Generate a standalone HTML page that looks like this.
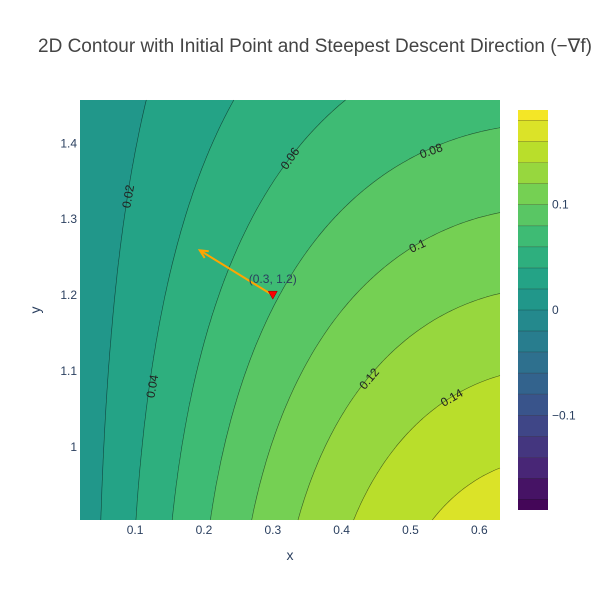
<!DOCTYPE html>
<html><head><meta charset="utf-8"><style>
body{margin:0;background:#fff;font-family:"Liberation Sans",sans-serif;}
#wrap{position:relative;width:600px;height:600px;}
canvas{position:absolute;left:80px;top:100px;}
svg{position:absolute;left:0;top:0;}
text{font-family:"Liberation Sans",sans-serif;fill:#2a3f5f;}
</style></head><body>
<div id="wrap">
<canvas id="cv" width="420" height="420"></canvas>
<svg id="sv" width="600" height="600"></svg>
</div>
<script>
const levels=[-0.18,-0.16,-0.14,-0.12,-0.1,-0.08,-0.06,-0.04,-0.02,0,0.02,0.04,0.06,0.08,0.1,0.12,0.14,0.16,0.18];
const xTicks=[0.1,0.2,0.3,0.4,0.5,0.6];
const xTickLabels=["0.1","0.2","0.3","0.4","0.5","0.6"];
const yTicks=[1,1.1,1.2,1.3,1.4];
const yTickLabels=["1","1.1","1.2","1.3","1.4"];
const cbTicks=[-0.1,0,0.1];
const cbTickLabels=["−0.1","0","0.1"];
const initialPoint=[0.3,1.2];
const arrowEnd=[0.194,1.259];
const labelLevels=[0.02,0.04,0.06,0.08,0.1,0.12,0.14];
const labelX=[0.09,0.125,0.325,0.53,0.51,0.44,0.56];
const labelY=[1.33,1.08,1.38,1.39,1.265,1.09,1.065];
const labelRot=[-80,-80,-55,-20,-25,-50,-30];

const X0=0.02,X1=0.63,Y0=0.904,Y1=1.457,L=80,T=100,W=420,H=420;
const sx=x=>L+(x-X0)/(X1-X0)*W, sy=y=>T+(Y1-y)/(Y1-Y0)*H;
const f=(x,y)=>x*y*Math.exp(-(x*x+y*y));
const vir=["#440154","#482878","#3e4989","#31688e","#26828e","#1f9e89","#35b779","#6ece58","#b5de2b","#fde725"];
function hex(h){return [1,3,5].map(i=>parseInt(h.substr(i,2),16));}
function cmap(t){t=Math.max(0,Math.min(1,t));const p=t*9,i=Math.min(8,Math.floor(p)),r=p-i;const a=hex(vir[i]),b=hex(vir[i+1]);return a.map((v,k)=>Math.round(v+(b[k]-v)*r));}
const CMIN=-0.19,CMAX=0.19;
function bandColor(v){let lo=CMIN,hi=CMAX;for(const l of levels){if(l<=v)lo=l;}for(let i=levels.length-1;i>=0;i--){if(levels[i]>v)hi=levels[i];}
 if(v<levels[0])hi=levels[0];return cmap(((lo+hi)/2-CMIN)/(CMAX-CMIN));}
const cv=document.getElementById('cv'),ctx=cv.getContext('2d'),img=ctx.createImageData(W,H);
for(let j=0;j<H;j++)for(let i=0;i<W;i++){const x=X0+(i+0.5)/W*(X1-X0),y=Y1-(j+0.5)/H*(Y1-Y0);const c=bandColor(f(x,y));const k=(j*W+i)*4;img.data[k]=c[0];img.data[k+1]=c[1];img.data[k+2]=c[2];img.data[k+3]=255;}
ctx.putImageData(img,0,0);
const sv=document.getElementById('sv'),NS="http://www.w3.org/2000/svg";
function el(t,a,p){const e=document.createElementNS(NS,t);for(const k in a)e.setAttribute(k,a[k]);(p||sv).appendChild(e);return e;}
const N=120;
for(const lv of levels){let d="";
 for(let j=0;j<N;j++)for(let i=0;i<N;i++){
  const xa=X0+i/N*(X1-X0),xb=X0+(i+1)/N*(X1-X0),ya=Y0+j/N*(Y1-Y0),yb=Y0+(j+1)/N*(Y1-Y0);
  const c=[[xa,ya,f(xa,ya)],[xb,ya,f(xb,ya)],[xb,yb,f(xb,yb)],[xa,yb,f(xa,yb)]];
  const pts=[];
  for(let e=0;e<4;e++){const p=c[e],q=c[(e+1)%4];if((p[2]-lv)*(q[2]-lv)<0){const r=(lv-p[2])/(q[2]-p[2]);pts.push([p[0]+r*(q[0]-p[0]),p[1]+r*(q[1]-p[1])]);}}
  if(pts.length>=2)d+=`M${sx(pts[0][0]).toFixed(1)},${sy(pts[0][1]).toFixed(1)}L${sx(pts[1][0]).toFixed(1)},${sy(pts[1][1]).toFixed(1)}`;
  if(pts.length==4)d+=`M${sx(pts[2][0]).toFixed(1)},${sy(pts[2][1]).toFixed(1)}L${sx(pts[3][0]).toFixed(1)},${sy(pts[3][1]).toFixed(1)}`;
 }
 if(d){const p=el('path',{d:d,stroke:'rgba(0,0,0,0.55)','stroke-width':0.6,fill:'none'});
 
 }
}
labelLevels.forEach((lv,i)=>{const x=sx(labelX[i]),y=sy(labelY[i]);
 const t=el('text',{x:x,y:y+4,'text-anchor':'middle','font-size':12,transform:`rotate(${labelRot[i]} ${x} ${y})`,style:'fill:#222'});
 t.textContent=String(lv);
 
 });
const ax0=sx(initialPoint[0]),ay0=sy(initialPoint[1]),ax1=sx(arrowEnd[0]),ay1=sy(arrowEnd[1]);
const ar=el('line',{x1:ax0,y1:ay0,x2:ax1,y2:ay1,stroke:'#FFA500','stroke-width':2});


const ang=Math.atan2(ay1-ay0,ax1-ax0);
const hp=[[ax1,ay1],[ax1-9*Math.cos(ang-0.45),ay1-9*Math.sin(ang-0.45)],[ax1-9*Math.cos(ang+0.45),ay1-9*Math.sin(ang+0.45)]];
const ah=el('polyline',{points:`${hp[1]} ${hp[0]} ${hp[2]}`,stroke:'#FFA500','stroke-width':2,fill:'none'});


const mk=el('path',{d:`M${ax0-4.5},${ay0-4}L${ax0+4.5},${ay0-4}L${ax0},${ay0+4}Z`,fill:'red',stroke:'#800','stroke-width':0.5});


const pl=el('text',{x:ax0,y:ay0-12,'text-anchor':'middle','font-size':12,style:'fill:#2a3f5f'});
pl.textContent=`(${initialPoint[0]}, ${initialPoint[1]})`;


xTicks.forEach((v,i)=>{const t=el('text',{x:sx(v),y:534,'text-anchor':'middle','font-size':12});t.textContent=xTickLabels[i];
 
 });
yTicks.forEach((v,i)=>{const t=el('text',{x:77,y:sy(v)+4,'text-anchor':'end','font-size':12});t.textContent=yTickLabels[i];
 
 });
const xt=el('text',{x:290,y:560,'text-anchor':'middle','font-size':14});xt.textContent='x';


const yt=el('text',{x:40,y:310,'text-anchor':'middle','font-size':14,transform:'rotate(-90 40 310)'});yt.textContent='y';


const tt=el('text',{x:315,y:52,'text-anchor':'middle','font-size':19,style:'fill:#444'});tt.textContent='2D Contour with Initial Point and Steepest Descent Direction (−∇f)';


const CB0=110,CB1=510,cy=v=>CB1-(v-CMIN)/(CMAX-CMIN)*(CB1-CB0);
const edges=[CMIN,...levels,CMAX];
for(let i=0;i<edges.length-1;i++){const a=edges[i],b=edges[i+1];const c=cmap(((a+b)/2-CMIN)/(CMAX-CMIN));
 const r=el('rect',{x:518,y:cy(b),width:30,height:cy(a)-cy(b),fill:`rgb(${c})`});
 
 
 if(i>0){const ln=el('line',{x1:518,x2:548,y1:cy(a),y2:cy(a),stroke:'rgba(0,0,0,0.4)','stroke-width':0.6});
 
 }}
cbTicks.forEach((v,i)=>{const t=el('text',{x:552,y:cy(v)+4,'font-size':12});t.textContent=cbTickLabels[i];
 
 });
</script>
</body></html>
